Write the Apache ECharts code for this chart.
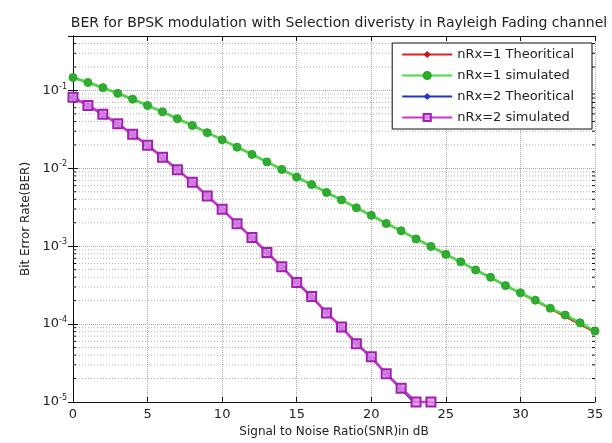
<!DOCTYPE html>
<html>
<head>
<meta charset="utf-8">
<script src="https://cdn.jsdelivr.net/npm/echarts@6/dist/echarts.min.js"></script>
<style>
  html, body { margin: 0; padding: 0; background: #fff; }
  #berChart { width: 612px; height: 443px; }
</style>
</head>
<body>
<div id="berChart"></div>
<script>
// Eb/N0 in dB
const snrDb = [0, 1, 2, 3, 4, 5, 6, 7, 8, 9, 10, 11, 12, 13, 14, 15, 16, 17,
  18, 19, 20, 21, 22, 23, 24, 25, 26, 27, 28, 29, 30, 31, 32, 33, 34, 35]

const ber1Theory = [0.1464, 0.1267, 0.1085, 0.0919, 0.0771, 0.0642, 0.0530, 0.0435,
  0.0355, 0.0288, 0.0233, 0.0188, 0.0151, 0.0121, 0.00966, 0.00772, 0.00616, 0.00491,
  0.00392, 0.00312, 0.00248, 0.00197, 0.00157, 0.00125, 0.000992, 0.000789, 0.000627,
  0.000498, 0.000396, 0.000314, 0.000250, 0.000199, 0.000158, 0.000125, 0.0000995, 0.0000790]

const ber1Sim = [0.1466, 0.1266, 0.1086, 0.0918, 0.0772, 0.0641, 0.0531, 0.0434,
  0.0356, 0.0287, 0.0233, 0.0187, 0.0151, 0.0121, 0.00968, 0.00771, 0.00618, 0.00490,
  0.00393, 0.00311, 0.00249, 0.00196, 0.00158, 0.00124, 0.000995, 0.000786, 0.000630,
  0.000495, 0.000399, 0.000312, 0.000252, 0.000203, 0.000160, 0.000131, 0.000104, 0.0000815]

const ber2Theory = [0.0816, 0.0642, 0.0494, 0.0372, 0.0274, 0.0197, 0.0139, 0.00967,
  0.00661, 0.00444, 0.00297, 0.00196, 0.00128, 0.000835, 0.000540, 0.000347, 0.000223,
  0.000142, 0.0000905, 0.0000576, 0.0000366, 0.0000232, 0.0000147, 0.0000093, 0.0000059,
  0.00000375, 0.00000237, 0.00000149, 0.00000094, 0.00000059, 0.000000375, 0.000000237,
  0.000000149, 0.000000094, 0.000000059, 0.0000000375]

// simulated nRx=2 stops where no more errors were counted
const ber2Sim = [0.0815, 0.0643, 0.0493, 0.0373, 0.0273, 0.0198, 0.0139, 0.00962,
  0.00665, 0.00441, 0.00299, 0.00194, 0.00129, 0.000830, 0.000545, 0.000342, 0.000226,
  0.000139, 0.0000920, 0.0000560, 0.0000380, 0.0000230, 0.0000150, 0.0000100, 0.0000100]

const seriesNames = ['nRx=1 Theoritical', 'nRx=1 simulated', 'nRx=2 Theoritical', 'nRx=2 simulated']

// minor log grid lines 2..9 x 10^k
const minorGrid = []
for (let k = -5; k <= -1; k++) {
  for (let m = 2; m <= 9; m++) {
    const v = m * Math.pow(10, k)
    if (v < 0.5) minorGrid.push(v)
  }
}

const pairs = (ys) => ys.map((y, i) => [snrDb[i], y])

const fontFamily = 'DejaVu Sans, sans-serif'
const textColor = '#222'
const gridLine = { show: true, lineStyle: { color: '#a8a8a8', type: 'dotted', width: 1 } }

// dotted minor grid line plus short inward ticks on both sides
function renderMinor (params, api) {
  const y = api.coord([0, api.value(0)])[1]
  const x0 = params.coordSys.x
  const x1 = params.coordSys.x + params.coordSys.width
  return {
    type: 'group',
    children: [
      { type: 'line', shape: { x1: x0, y1: y, x2: x1, y2: y }, style: { stroke: '#b0b0b0', lineWidth: 1, lineDash: [1, 2] } },
      { type: 'line', shape: { x1: x0, y1: y, x2: x0 + 3, y2: y }, style: { stroke: '#111', lineWidth: 1 } },
      { type: 'line', shape: { x1: x1 - 3, y1: y, x2: x1, y2: y }, style: { stroke: '#111', lineWidth: 1 } }
    ]
  }
}

const chart = echarts.init(document.getElementById('berChart'))
const option = {
  backgroundColor: '#fff',
  animation: false,
  title: {
    text: 'BER for BPSK modulation with Selection diveristy in Rayleigh Fading channel',
    left: 334,
    top: 11,
    textAlign: 'center',
    textStyle: { fontFamily, fontSize: 14, fontWeight: 'normal', color: textColor }
  },
  legend: {
    data: seriesNames,
    orient: 'vertical',
    right: 20,
    top: 43,
    itemWidth: 50,
    itemHeight: 9,
    itemGap: 8,
    padding: [5, 18, 5, 9],
    borderColor: '#111',
    borderWidth: 1,
    backgroundColor: '#fff',
    textStyle: { fontFamily, fontSize: 13, color: textColor }
  },
  grid: { left: 73, right: 17, top: 36, bottom: 36 },
  xAxis: [
    {
      type: 'value',
      min: 0,
      max: 35,
      interval: 5,
      name: 'Signal to Noise Ratio(SNR)in dB',
      nameLocation: 'middle',
      nameGap: 24,
      nameTextStyle: { fontFamily, fontSize: 12, color: textColor },
      axisLine: { lineStyle: { color: '#111' } },
      axisTick: { inside: true, length: 5, lineStyle: { color: '#111' } },
      axisLabel: { margin: 6, fontFamily, fontSize: 13, color: textColor },
      splitLine: gridLine
    },
    {
      type: 'value',
      position: 'top',
      min: 0,
      max: 35,
      interval: 5,
      axisLine: { lineStyle: { color: '#111' } },
      axisTick: { inside: true, length: 5, lineStyle: { color: '#111' } },
      axisLabel: { show: false },
      splitLine: { show: false }
    }
  ],
  yAxis: [
    {
      type: 'log',
      logBase: 10,
      min: 0.00001,
      max: 0.5,
      name: 'Bit Error Rate(BER)',
      nameLocation: 'middle',
      nameGap: 27,
      nameTextStyle: { fontFamily, fontSize: 12, color: textColor },
      axisLine: { lineStyle: { color: '#111' } },
      axisTick: { inside: true, length: 5, lineStyle: { color: '#111' } },
      axisLabel: {
        margin: 6,
        showMaxLabel: false,
        formatter: (v) => '{b|10}{s|' + Math.round(Math.log10(v)) + '}',
        rich: {
          b: { fontFamily, fontSize: 13, color: textColor },
          s: { fontFamily, fontSize: 8, color: textColor, verticalAlign: 'top', padding: [0, 0, 8, 0] }
        }
      },
      splitLine: gridLine
    },
    {
      type: 'log',
      logBase: 10,
      min: 0.00001,
      max: 0.5,
      position: 'right',
      axisLine: { lineStyle: { color: '#111' } },
      axisTick: { inside: true, length: 5, lineStyle: { color: '#111' } },
      axisLabel: { show: false },
      splitLine: { show: false }
    }
  ],
  series: [
    {
      name: 'minor',
      type: 'custom',
      z: 1,
      silent: true,
      renderItem: renderMinor,
      encode: { y: 0 },
      data: minorGrid.map(v => [v])
    },
    {
      name: seriesNames[0],
      type: 'line',
      z: 3,
      data: pairs(ber1Theory),
      symbol: 'diamond',
      symbolSize: 6,
      lineStyle: { color: '#e02020', width: 2 },
      itemStyle: { color: '#c01818' }
    },
    {
      name: seriesNames[1],
      type: 'line',
      z: 4,
      data: pairs(ber1Sim),
      symbol: 'circle',
      symbolSize: 8,
      lineStyle: { color: '#44dd44', width: 2.5 },
      itemStyle: { color: '#33aa33', borderColor: '#22aa22', borderWidth: 1 }
    },
    {
      name: seriesNames[2],
      type: 'line',
      z: 5,
      data: pairs(ber2Theory),
      symbol: 'diamond',
      symbolSize: 8,
      lineStyle: { color: '#2233cc', width: 2 },
      itemStyle: { color: '#2233cc' }
    },
    {
      name: seriesNames[3],
      type: 'line',
      z: 6,
      data: pairs(ber2Sim),
      symbol: 'rect',
      symbolSize: 9,
      lineStyle: { color: '#cc33cc', width: 2.5 },
      itemStyle: { color: 'rgba(225, 140, 230, 0.8)', borderColor: '#a020b0', borderWidth: 2 }
    }
  ]
}
chart.setOption(option)
</script>
</body>
</html>
